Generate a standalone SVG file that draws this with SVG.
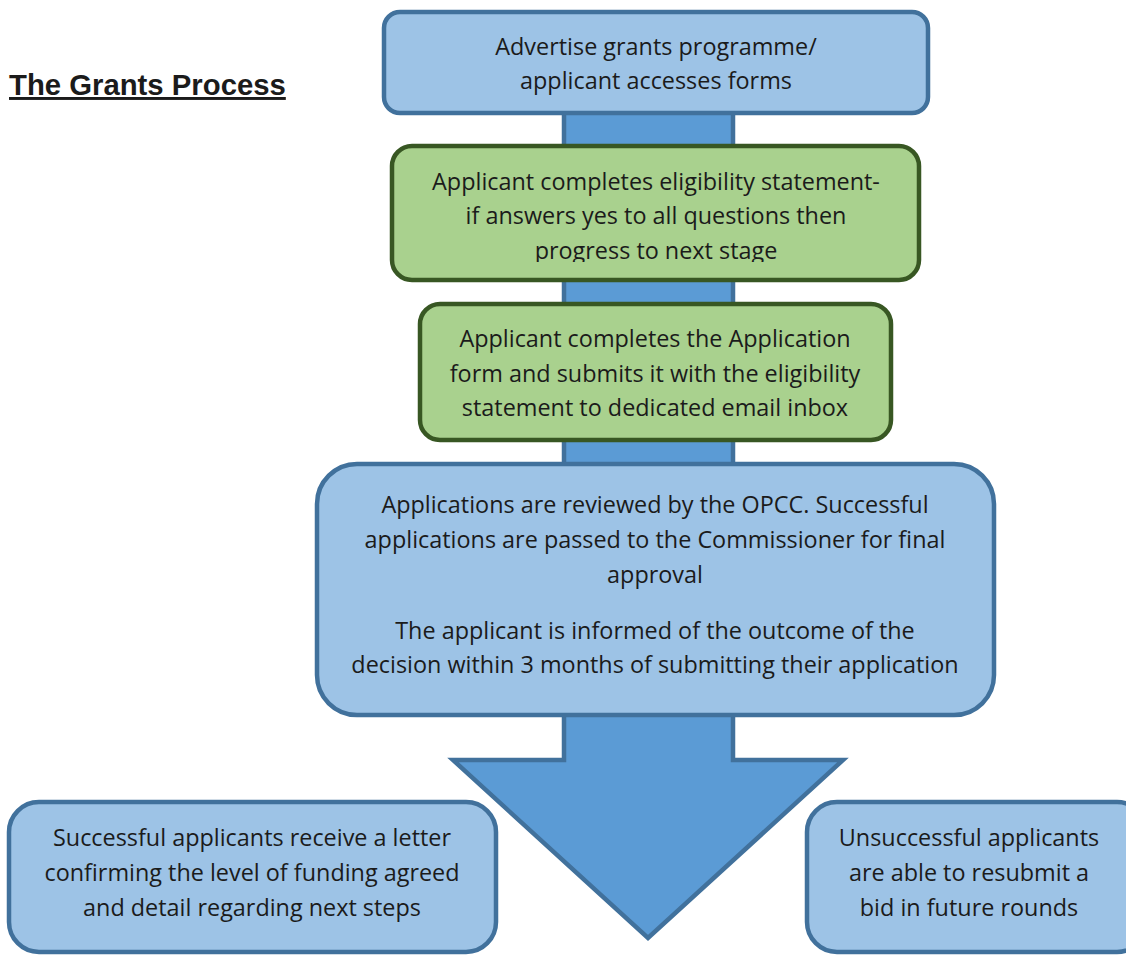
<svg xmlns="http://www.w3.org/2000/svg" width="1126" height="956" viewBox="0 0 1126 956">
<style>
.bg{fill:#ffffff}
.blue{fill:#9DC3E6;stroke:#41719C;stroke-width:4.5}
.green{fill:#A9D18E;stroke:#385723;stroke-width:4.5}
.arrow{fill:#5B9BD5;stroke:#41719C;stroke-width:4.5;stroke-linejoin:miter}
.t{font-family:"Open Sans","Noto Sans","DejaVu Sans",sans-serif;font-size:23.4px;fill:#1b1b1b;text-anchor:middle}
.title{font-family:"Liberation Sans",Arial,sans-serif;font-size:29.3px;font-weight:bold;fill:#1b1b1b;text-decoration:underline}
</style>
<defs>
<clipPath id="clipG1"><rect x="395" y="148" width="522" height="114"/></clipPath>
</defs>
<rect class="bg" x="0" y="0" width="1126" height="956"/>
<text class="title" x="9" y="95">The Grants Process</text>
<g id="connectors">
<path class="arrow" d="M564,100 L733,100 L733,760 L843,760 L648,938 L453,760 L564,760 Z"/>
</g>
<g id="node-advertise">
<rect class="blue" x="384" y="12" width="544" height="101" rx="16"/>
<text class="t" x="656" y="55">Advertise grants programme/</text>
<text class="t" x="656" y="89">applicant accesses forms</text>
</g>
<g id="node-eligibility">
<rect class="green" x="392" y="146" width="527" height="134" rx="20"/>
<g clip-path="url(#clipG1)">
<text class="t" x="656" y="190">Applicant completes eligibility statement-</text>
<text class="t" x="656" y="224">if answers yes to all questions then</text>
<text class="t" x="656" y="259">progress to next stage</text>
</g>
</g>
<g id="node-application">
<rect class="green" x="420" y="304" width="471" height="136" rx="20"/>
<text class="t" x="655" y="347">Applicant completes the Application</text>
<text class="t" x="655" y="382">form and submits it with the eligibility</text>
<text class="t" x="655" y="416">statement to dedicated email inbox</text>
</g>
<g id="node-review">
<rect class="blue" x="317" y="464" width="677" height="251" rx="40"/>
<text class="t" x="655" y="513">Applications are reviewed by the OPCC. Successful</text>
<text class="t" x="655" y="548">applications are passed to the Commissioner for final</text>
<text class="t" x="655" y="583">approval</text>
<text class="t" x="655" y="639">The applicant is informed of the outcome of the</text>
<text class="t" x="655" y="673">decision within 3 months of submitting their application</text>
</g>
<g id="node-successful">
<rect class="blue" x="9" y="802" width="487" height="150" rx="30"/>
<text class="t" x="252" y="846">Successful applicants receive a letter</text>
<text class="t" x="252" y="881">confirming the level of funding agreed</text>
<text class="t" x="252" y="916">and detail regarding next steps</text>
</g>
<g id="node-unsuccessful">
<rect class="blue" x="807" y="802" width="340" height="150" rx="30"/>
<text class="t" x="969" y="846">Unsuccessful applicants</text>
<text class="t" x="969" y="881">are able to resubmit a</text>
<text class="t" x="969" y="916">bid in future rounds</text>
</g>
</svg>
